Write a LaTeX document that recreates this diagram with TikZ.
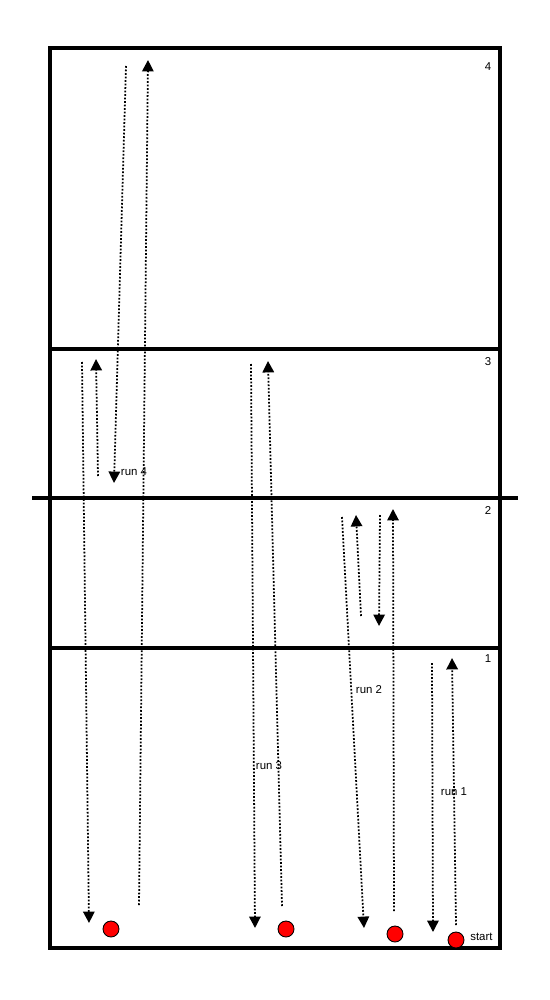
\documentclass[tikz,border=0pt]{standalone}
\usepackage{fontspec}
\setmainfont{Liberation Sans}
\usetikzlibrary{arrows.meta}
\begin{document}
\begin{tikzpicture}[x=0.02cm,y=-0.02cm,
		run/.style={line width=1pt,dash pattern=on 1pt off 1pt,-{Triangle[width=6.5pt,length=6.5pt]}},
		player/.style={circle,draw=black,fill=red,line width=0.5pt,minimum size=0.32cm,inner sep=0pt},
		lbl/.style={font=\fontsize{6.5}{7}\selectfont,inner sep=0pt}]
		\useasboundingbox (0,0) rectangle (550,1000);
		% field and zones
		\draw[line width=2.4pt] (50,48) rectangle (500,948);
		\foreach \y in {349,648}{
			\draw[line width=1.9pt] (50,\y)--(500,\y);
		}
		\draw[line width=1.9pt] (32,498)--(518,498);
		\foreach \n/\y in {4/67,3/362,2/511,1/659}{
			\node[lbl] (z\n) at (488,\y) {\n};
		}
		% runs
		\foreach \n/\xa/\ya/\xb/\yb in {a/432/663/433/932, b/456/925/452/658,
			c/342/517/364/928, d/361/616/356/515, e/380/515/379/626, f/394/911/393/509,
			g/251/364/255/928, h/282/906/268/361,
			i/82/362/89/923, j/139/905/148/60, k/126/66/114/483, l/98/476/96/359}{
			\coordinate (s\n) at (\xa,\ya);
			\coordinate (e\n) at (\xb,\yb);
			\draw[run] (s\n)--(e\n);
		}
		% players
		\foreach \p/\x/\y in {a/111/929,b/286/929,c/395/934,d/456/940}{
			\node[player] (p\p) at (\x,\y) {};
		}
		\node[lbl] (run1) at (454,792) {run 1};
		\node[lbl] (run2) at (369,690) {run 2};
		\node[lbl] (run3) at (269,766) {run 3};
		\node[lbl] (run4) at (134,472) {run 4};
		\node[lbl,anchor=west] (start) at (470,937) {start};
	\end{tikzpicture}
\end{document}
